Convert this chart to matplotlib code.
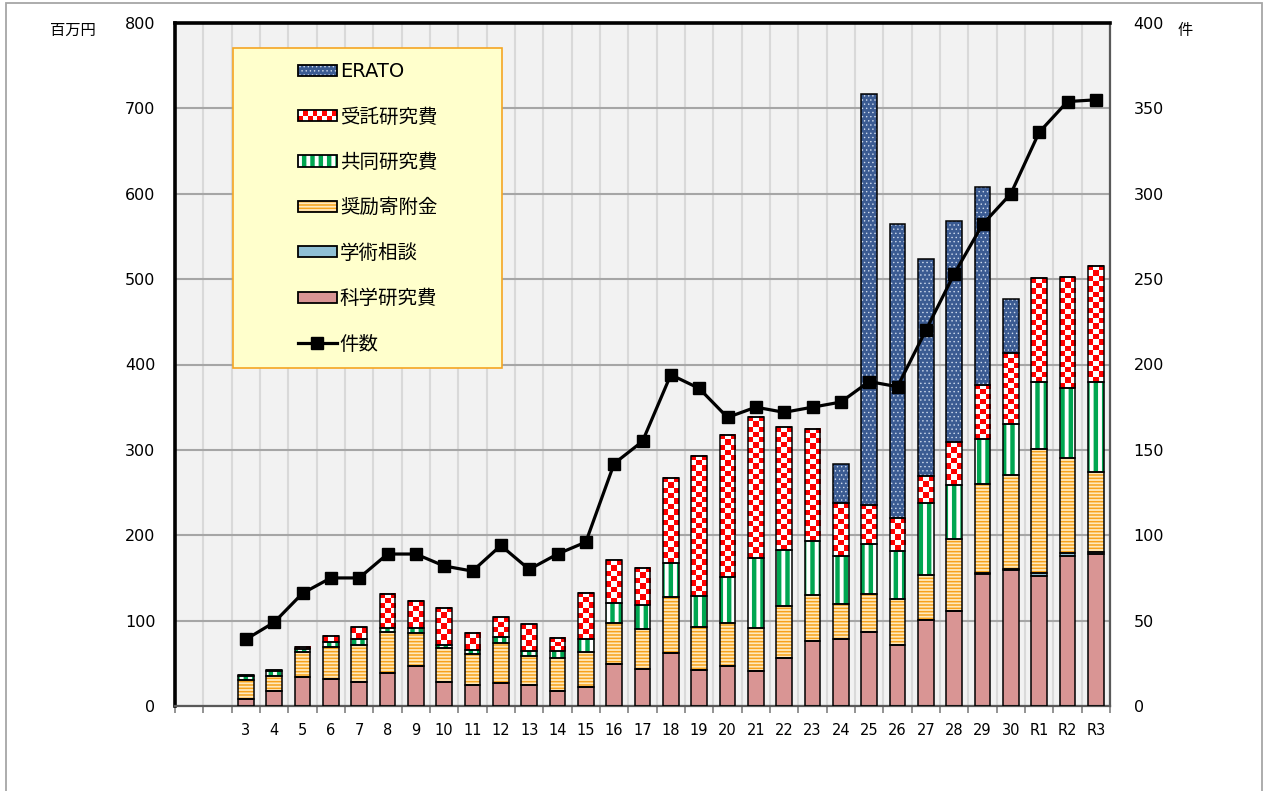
import numpy as np
import matplotlib
matplotlib.use("Agg")
import matplotlib.pyplot as plt
from matplotlib.patches import Rectangle
from matplotlib.lines import Line2D
from matplotlib.colors import ListedColormap
from matplotlib.legend_handler import HandlerBase

plt.rcParams['font.family'] = ['DejaVu Sans', 'Noto Sans CJK JP']

# x categories (first two slots are empty)
labels = ['', '', '3', '4', '5', '6', '7', '8', '9', '10', '11', '12', '13', '14', '15',
          '16', '17', '18', '19', '20', '21', '22', '23', '24', '25', '26', '27', '28',
          '29', '30', 'R1', 'R2', 'R3']

# 百万円, years 3 .. R3
kaken = [8, 17, 34, 32, 28, 39, 47, 28, 25, 27, 25, 18, 22, 49, 43, 62, 42, 47, 41, 56,
         76, 79, 87, 71, 101, 111, 155, 159, 152, 176, 178]
soudan = [0, 0, 0, 0, 0, 0, 0, 0, 0, 0, 0, 0, 0, 0, 0, 0, 0, 0, 0, 0,
          0, 0, 0, 0, 0, 0, 0.5, 1, 4, 3, 2]
shorei = [22, 18, 29, 37, 43, 48, 39, 40, 36, 47, 34, 38, 41, 48, 47, 66, 50, 50, 50, 61,
          54, 41, 44, 54, 53, 85, 104, 110, 145, 112, 94]
kyodo = [5, 6, 3.5, 5.5, 8, 4, 5, 3, 5, 7, 6, 8, 15, 24, 28, 39, 37, 54, 82, 66,
         63, 56, 59, 57, 84, 63, 53, 60, 79, 82, 105]
jutaku = [1, 1, 3, 8, 14, 40, 32, 44, 20, 23, 31, 16, 54, 50, 44, 100, 164, 167, 166, 144,
          132, 62, 46, 38, 31, 50, 64, 83, 121, 129, 136]
erato = [0, 0, 0, 0, 0, 0, 0, 0, 0, 0, 0, 0, 0, 0, 0, 0, 0, 0, 0, 0,
         0, 46, 481, 345, 255, 259, 231, 64, 0, 0, 0]

# 件数
counts = [39, 49, 66, 75, 75, 89, 89, 82, 79, 94, 80, 89, 96, 142, 155, 194, 186, 169, 175,
          172, 175, 178, 190, 187, 220, 253, 282, 300, 336, 354, 355]

styles = {
    '科学研究費': dict(face='#d99594', hatch=None),
    '学術相談': dict(face='#8fbfd4', hatch=None),
    '奨励寄附金': dict(face='#ffe9bd', hatch='-----', hcolor='#f7a21b', hlw=1.1),
    '共同研究費': dict(face='white', hatch='||', hcolor='#00a651', hlw=3.2),
    '受託研究費': dict(face='white', hatch=None, checker=True),
    'ERATO': dict(face='#3b5b92', hatch='....', hcolor='#d0dcee', hlw=0.5),
}
series = [('科学研究費', kaken), ('学術相談', soudan), ('奨励寄附金', shorei),
          ('共同研究費', kyodo), ('受託研究費', jutaku), ('ERATO', erato)]

fig = plt.figure(figsize=(12.65, 7.91), dpi=100)
ax = fig.add_axes([175 / 1265, 1 - 706 / 791, 935 / 1265, 683 / 791])
ax.set_facecolor('#f2f2f2')
ax.set_xlim(-0.5, len(labels) - 0.5)
ax.set_ylim(0, 800)

x = np.arange(2, len(labels))
w = 0.56
py = ax.transData.transform((0, 1))[1] - ax.transData.transform((0, 0))[1]
checker_cmap = ListedColormap(['white', '#ff0000'])

bottom = np.zeros(len(x))
for name, vals in series:
    st = styles[name]
    vals = np.array(vals, float)
    ax.bar(x, vals, w, bottom=bottom, color=st['face'], lw=0, zorder=2)
    if st.get('hatch'):
        hb = ax.bar(x, vals, w, bottom=bottom, color='none', edgecolor=st['hcolor'],
                    hatch=st['hatch'], lw=0, zorder=3)
        for p in hb:
            if hasattr(p, 'set_hatch_linewidth'):
                p.set_hatch_linewidth(st['hlw'])
    if st.get('checker'):
        for xi, b, h in zip(x, bottom, vals):
            if h <= 0:
                continue
            nr = max(1, int(round(h * py / 5.2)))
            arr = (np.add.outer(np.arange(nr), np.arange(3)) + 1) % 2
            ax.imshow(arr, cmap=checker_cmap, vmin=0, vmax=1, aspect='auto',
                      interpolation='nearest', extent=[xi - w / 2, xi + w / 2, b, b + h],
                      zorder=3)
    ax.bar(x, vals, w, bottom=bottom, color='none', edgecolor='black', lw=1.1, zorder=4)
    bottom += vals

ax.set_xlim(-0.5, len(labels) - 0.5)
ax.set_ylim(0, 800)
ax.set_aspect('auto')

ax.set_xticks(np.arange(len(labels)))
ax.set_xticklabels(labels, fontsize=10.5)
ax.set_xticks(np.arange(len(labels) + 1) - 0.5, minor=True)
ax.tick_params(axis='x', which='major', length=0, pad=12)
ax.tick_params(axis='x', which='minor', length=5, color='#808080', width=1.2)
ax.set_yticks(np.arange(0, 801, 100))
ax.tick_params(axis='y', length=0, pad=14, labelsize=11.5)
ax.grid(which='minor', axis='x', color='#d9d9d9', lw=1.5)
ax.grid(which='major', axis='y', color='#a6a6a6', lw=1.5)
ax.grid(which='major', axis='x', visible=False)
ax.set_axisbelow(True)

ax.spines['left'].set_linewidth(2.6)
ax.spines['top'].set_linewidth(2.6)
ax.spines['left'].set_color('black')
ax.spines['top'].set_color('black')
ax.spines['bottom'].set_color('#595959')
ax.spines['bottom'].set_linewidth(1.6)
ax.spines['right'].set_color('#595959')
ax.spines['right'].set_linewidth(1.6)

ax2 = ax.twinx()
ax2.set_ylim(0, 400)
ax2.set_yticks(np.arange(0, 401, 50))
ax2.tick_params(axis='y', length=0, pad=17, labelsize=11.5)
for s in ax2.spines.values():
    s.set_visible(False)
ax2.plot(x, counts, color='black', lw=2.3, marker='s', ms=8, zorder=5)

fig.text(50 / 1265, 1 - 30 / 791, '百万円', fontsize=11, va='center', ha='left')
fig.text(1178 / 1265, 1 - 30 / 791, '件', fontsize=11, va='center', ha='left')


class SwatchHandler(HandlerBase):
    def __init__(self, st):
        super().__init__()
        self.st = st

    def create_artists(self, legend, orig_handle, xdescent, ydescent, width, height,
                       fontsize, trans):
        x0, y0 = -xdescent, -ydescent
        st = self.st
        arts = [Rectangle((x0, y0), width, height, facecolor=st['face'], lw=0,
                          transform=trans)]
        if st.get('hatch'):
            r = Rectangle((x0, y0), width, height, facecolor='none', edgecolor=st['hcolor'],
                          hatch=st['hatch'], lw=0, transform=trans)
            if hasattr(r, 'set_hatch_linewidth'):
                r.set_hatch_linewidth(st['hlw'])
            arts.append(r)
        if st.get('checker'):
            nr, nc = 2, 8
            for i in range(nr):
                for j in range(nc):
                    if (i + j) % 2 == 0:
                        arts.append(Rectangle((x0 + j * width / nc, y0 + i * height / nr),
                                              width / nc, height / nr, facecolor='#ff0000',
                                              lw=0, transform=trans))
        arts.append(Rectangle((x0, y0), width, height, facecolor='none', edgecolor='black',
                              lw=1.3, transform=trans))
        return arts


legend_order = ['ERATO', '受託研究費', '共同研究費', '奨励寄附金', '学術相談', '科学研究費']
handles = []
hmap = {}
for name in legend_order:
    h = Rectangle((0, 0), 1, 1)
    handles.append(h)
    hmap[h] = SwatchHandler(styles[name])
line_handle = Line2D([], [], color='black', lw=2.3, marker='s', ms=8)
handles.append(line_handle)

box = Rectangle((233 / 1265, 1 - 368 / 791), 269 / 1265, 320 / 791, transform=fig.transFigure,
                facecolor='#ffffcc', edgecolor='#f5a623', lw=1.2, zorder=4)
ax2.add_patch(box)
ax2.legend(handles, legend_order + ['件数'], handler_map=hmap, frameon=False,
           loc='upper left', bbox_to_anchor=(298 / 1265, 1 - 62 / 791),
           bbox_transform=fig.transFigure, borderpad=0, borderaxespad=0,
           handlelength=2.0, handleheight=0.5, handletextpad=0.15, labelspacing=1.36,
           prop={'size': 14})

fig.add_artist(Rectangle((6 / 1265, -0.05), 1256 / 1265, 1.05 - 3 / 791,
                         transform=fig.transFigure, facecolor='none', edgecolor='#a6a6a6',
                         lw=1.3))

fig.savefig('out.png', dpi=100)
